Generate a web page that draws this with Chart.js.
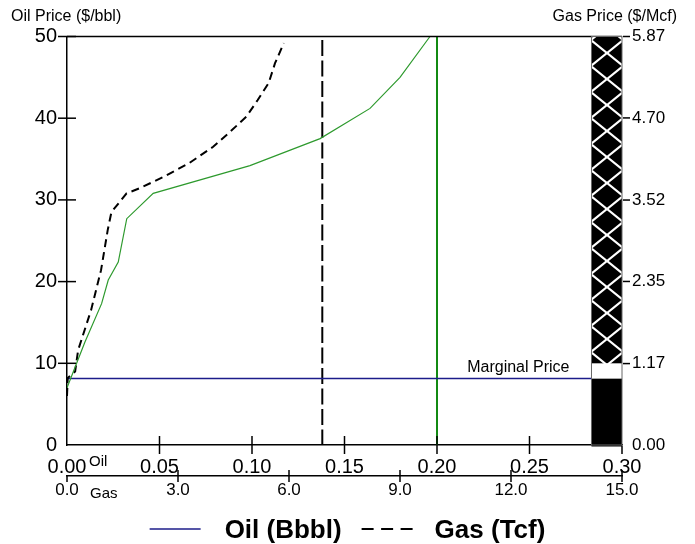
<!DOCTYPE html>
<html>
<head>
<meta charset="utf-8">
<script src="https://cdn.jsdelivr.net/npm/chart.js@4"></script>
<style>
  html, body { margin: 0; padding: 0; background: #fff; }
  canvas { display: block; }
</style>
</head>
<body>
<canvas id="chart" width="695" height="544"></canvas>
<script>
// oil supply curve: Bbbl vs $/bbl
const oilQty   = [0.0, 0.0052, 0.0097, 0.0187, 0.0223, 0.0277, 0.0323, 0.0466, 0.0989, 0.1368, 0.1638, 0.180, 0.1962];
const oilPrice = [7.0, 10.0, 12.6, 17.3, 20.2, 22.4, 27.7, 30.8, 34.2, 37.5, 41.2, 45.0, 50.0];

// gas supply curve: Tcf vs oil-equivalent $/bbl
const gasQty   = [0.0, 0.02, 0.22, 0.3, 0.65, 0.92, 1.10, 1.20, 1.61, 1.95, 2.6, 3.3, 3.95, 4.4, 4.85, 5.15, 5.45, 5.62, 5.86];
const gasPrice = [6.0, 8.2, 9.0, 11.6, 16.5, 21.4, 26.3, 28.5, 30.8, 31.4, 32.8, 34.5, 36.5, 38.3, 40.2, 42.2, 44.3, 46.7, 49.2];

const marginalPrice = 8.15;
const oilAtMarginal = 0.20;
const gasAtMarginal = 6.9;

// tick labels
const priceTicks    = [0, 10, 20, 30, 40, 50];
const gasPriceTicks = [0.00, 1.17, 2.35, 3.52, 4.70, 5.87];
const oilTicks      = [0, 0.05, 0.10, 0.15, 0.20, 0.25, 0.30];
const gasTicks      = [0, 3, 6, 9, 12, 15];

// price band at the right edge: solid / blank / hatched
const bandX     = [0.2835, 0.30];
const bandEdges = [0, 8.15, 10, 50];

const legendLabels = ['Oil (Bbbl)', 'Gas (Tcf)'];

const FONT = 'Arial, "Liberation Sans", sans-serif';
const NAVY = '#1c1c8a';

function line(ctx, x1, y1, x2, y2) {
    ctx.beginPath();
    ctx.moveTo(x1, y1);
    ctx.lineTo(x2, y2);
    ctx.stroke();
}

function hatchPattern(ctx, x0, y0) {
    const c = document.createElement('canvas');
    c.width = 32; c.height = 26;
    const g = c.getContext('2d');
    g.fillStyle = '#000';
    g.fillRect(0, 0, 32, 26);
    g.strokeStyle = '#fff';
    g.lineWidth = 2.2;
    g.beginPath();
    g.moveTo(0, 13); g.lineTo(16, 0); g.lineTo(32, 13); g.lineTo(16, 26); g.closePath();
    g.stroke();
    const p = ctx.createPattern(c, 'repeat');
    p.setTransform(new DOMMatrix([1, 0, 0, 1, Math.round(x0), Math.round(y0)]));
    return p;
}

// 🟢 band, tick marks and the loose labels
const decorations = {
    id: 'decorations',
    afterDatasetsDraw(chart) {
        const { ctx, chartArea: a, scales } = chart;
        const { x, x2, y, y2 } = scales;
        ctx.save();
        ctx.strokeStyle = '#000';
        ctx.lineWidth = 1.5;
        line(ctx, a.left, a.top, a.right, a.top);

        // band
        const bl = x.getPixelForValue(bandX[0]);
        const br = x.getPixelForValue(bandX[1]);
        const fills = ['#000', '#fff', hatchPattern(ctx, bl, a.top - 10)];
        for (let i = 0; i < bandEdges.length - 1; i++) {
            const top = y.getPixelForValue(bandEdges[i + 1]);
            const bot = y.getPixelForValue(bandEdges[i]);
            ctx.fillStyle = fills[i];
            ctx.fillRect(bl, top, br - bl, bot - top + (i === 0 ? 1.5 : 0));
        }
        ctx.strokeStyle = '#666';
        ctx.lineWidth = 1;
        ctx.strokeRect(bl, a.top, br - bl, a.bottom - a.top);

        // tick marks
        ctx.strokeStyle = '#000';
        ctx.lineWidth = 1.5;
        priceTicks.forEach(v => {
            if (v === 0) return;
            const py = y.getPixelForValue(v);
            line(ctx, a.left - 9, py, a.left + 9, py);
        });
        gasPriceTicks.forEach(v => {
            if (v === 0) return;
            const py = y2.getPixelForValue(v);
            line(ctx, a.right + 1, py, a.right + 8, py);
        });
        oilTicks.forEach(v => {
            if (v === 0) return;
            const px = x.getPixelForValue(v);
            line(ctx, px, v >= bandX[1] ? a.bottom + 1 : a.bottom - 9, px, a.bottom + 9);
        });
        gasTicks.forEach(v => {
            const px = x2.getPixelForValue(v);
            line(ctx, px, v === 0 ? x2.top : x2.top - 6, px, x2.top + 6);
        });

        // texts
        ctx.fillStyle = '#000';
        ctx.textBaseline = 'alphabetic';
        ctx.font = '16px ' + FONT;
        ctx.textAlign = 'left';
        ctx.fillText('Oil Price ($/bbl)', 11, 21);
        ctx.textAlign = 'right';
        ctx.fillText('Gas Price ($/Mcf)', 677, 21);
        ctx.fillText('Marginal Price', bl - 22, y.getPixelForValue(marginalPrice) - 6);
        ctx.textAlign = 'left';
        ctx.font = '15px ' + FONT;
        ctx.fillText('Oil', a.left + 22, a.bottom + 21);
        ctx.fillText('Gas', a.left + 23, x2.top + 21.5);
        ctx.restore();
    },
    afterDraw(chart) {
        // legend
        const { ctx, width, height } = chart;
        const cy = height - 15;
        ctx.save();
        ctx.font = 'bold 26px ' + FONT;
        const w0 = ctx.measureText(legendLabels[0]).width;
        const w1 = ctx.measureText(legendLabels[1]).width;
        const sw = 51, gap = 24, between = 20;
        const total = sw + gap + w0 + between + sw + gap - 2 + w1;
        let lx = (width - total) / 2;
        ctx.strokeStyle = NAVY;
        ctx.lineWidth = 1.5;
        line(ctx, lx, cy, lx + sw, cy);
        lx += sw + gap;
        ctx.fillStyle = '#000';
        ctx.textAlign = 'left';
        ctx.textBaseline = 'alphabetic';
        ctx.fillText(legendLabels[0], lx, cy + 8.5);
        lx += w0 + between;
        ctx.strokeStyle = '#000';
        ctx.lineWidth = 2;
        ctx.setLineDash([12, 7.5]);
        line(ctx, lx, cy, lx + sw, cy);
        ctx.setLineDash([]);
        lx += sw + gap - 2;
        ctx.fillText(legendLabels[1], lx, cy + 8.5);
        ctx.restore();
    }
};

const pts = (xs, ys) => xs.map((v, i) => ({ x: v, y: ys[i] }));

const axisBase = {
    type: 'linear',
    grid: { display: false, drawTicks: false },
    border: { display: true, color: '#000', width: 1.5 }
};

new Chart(document.getElementById('chart'), {
    type: 'line',
    data: {
        datasets: [
            {
                label: 'Oil supply',
                data: pts(oilQty, oilPrice),
                xAxisID: 'x', yAxisID: 'y',
                borderColor: '#2e9a2e', borderWidth: 1.2
            },
            {
                label: 'Gas supply',
                data: pts(gasQty, gasPrice),
                xAxisID: 'x2', yAxisID: 'y',
                borderColor: '#000', borderWidth: 2, borderDash: [8, 5]
            },
            {
                label: 'Marginal price',
                data: [{ x: 0, y: marginalPrice }, { x: bandX[0], y: marginalPrice }],
                xAxisID: 'x', yAxisID: 'y',
                borderColor: NAVY, borderWidth: 1.5
            },
            {
                label: 'Oil at marginal price',
                data: [{ x: oilAtMarginal, y: 0 }, { x: oilAtMarginal, y: 50 }],
                xAxisID: 'x', yAxisID: 'y',
                borderColor: '#138a13', borderWidth: 2
            },
            {
                label: 'Gas at marginal price',
                data: [{ x: gasAtMarginal, y: 50 }, { x: gasAtMarginal, y: 0 }],
                xAxisID: 'x2', yAxisID: 'y',
                borderColor: '#000', borderWidth: 2, borderDash: [16, 4.5], borderDashOffset: 17
            }
        ]
    },
    options: {
        responsive: false,
        animation: false,
        devicePixelRatio: 1,
        layout: { padding: { top: 36.5, bottom: 35, left: 0, right: 0 } },
        elements: { point: { radius: 0 }, line: { tension: 0, fill: false } },
        plugins: { legend: { display: false }, tooltip: { enabled: false } },
        scales: {
            x: {
                ...axisBase, position: 'bottom', weight: 0, min: 0, max: 0.30,
                afterBuildTicks: s => { s.ticks = oilTicks.map(v => ({ value: v })); },
                afterFit: s => { s.height = 31; },
                ticks: { color: '#000', font: { family: FONT, size: 20 }, padding: 10.5,
                         maxRotation: 0, autoSkip: false, callback: v => v.toFixed(2) }
            },
            x2: {
                ...axisBase, position: 'bottom', weight: 1, min: 0, max: 15,
                afterBuildTicks: s => { s.ticks = gasTicks.map(v => ({ value: v })); },
                afterFit: s => { s.height = 33; },
                ticks: { color: '#000', font: { family: FONT, size: 17 }, padding: 4,
                         maxRotation: 0, autoSkip: false, callback: v => v.toFixed(1) }
            },
            y: {
                ...axisBase, position: 'left', min: 0, max: 50,
                afterBuildTicks: s => { s.ticks = priceTicks.map(v => ({ value: v })); },
                afterFit: s => { s.width = 67; },
                ticks: { color: '#000', font: { family: FONT, size: 20 }, padding: 10,
                         callback: v => String(v) }
            },
            y2: {
                ...axisBase, position: 'right', min: 0, max: 5.87,
                border: { display: false },
                afterBuildTicks: s => { s.ticks = gasPriceTicks.map(v => ({ value: v })); },
                afterFit: s => { s.width = 73; },
                ticks: { color: '#000', font: { family: FONT, size: 17 }, padding: 10,
                         callback: v => v.toFixed(2) }
            }
        }
    },
    plugins: [decorations]
});
</script>
</body>
</html>
